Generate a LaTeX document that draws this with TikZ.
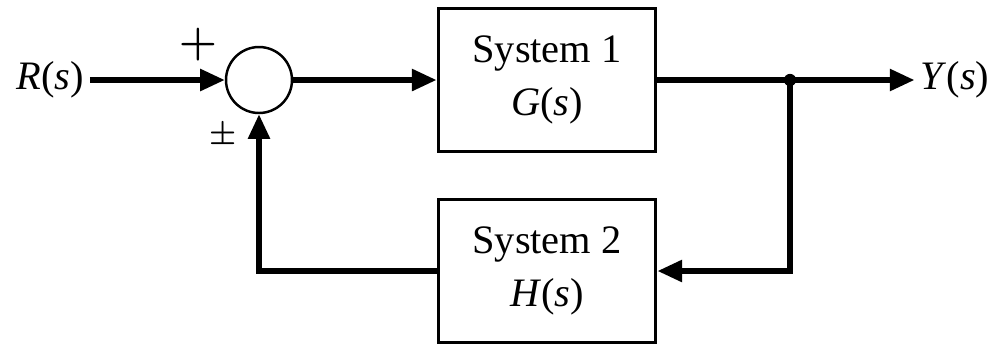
\documentclass[tikz,border=0pt]{standalone}
\usepackage{fontspec}
\setmainfont{Liberation Serif}
\usetikzlibrary{arrows.meta}

\begin{document}
\begin{tikzpicture}[x=0.02cm,y=-0.02cm,
    font=\fontsize{23}{30.5}\selectfont,
    blk/.style={draw,line width=1.7pt,minimum width=4.36cm,minimum height=2.86cm,
                inner sep=0pt,align=center},
    sig/.style={line width=3pt,-{Triangle[length=14pt,width=12pt]}}]
  \useasboundingbox (0,0) rectangle (991,343);

  \node (R) at (50,80) {\textit{R}(\textit{s})};
  \node[circle,draw,line width=1.4pt,minimum size=1.32cm,inner sep=0pt] (sum) at (259,80) {};
  \node[blk] (sys1) at (547,80) {System 1\\\textit{G}(\textit{s})};
  \node[blk] (sys2) at (547,271) {System 2\\\textit{H}(\textit{s})};
  \node (Y) at (955,80) {\textit{Y}(\textit{s})};
  \coordinate (split) at (790,80);
  \node[font=\fontsize{23}{28}\selectfont\boldmath] (plus) at (198,45) {$+$};
  \node[font=\fontsize{19}{23}\selectfont\boldmath] (pm) at (223,136) {$\pm$};

  % forward path
  \draw[sig] (R) -- (sum);
  \draw[sig] (sum) -- (sys1);
  \draw[sig] (sys1) -- (Y);
  \fill (split) circle (3.5pt);

  % feedback path
  \draw[sig] (split) |- (sys2);
  \draw[sig] (sys2) -| (sum);
\end{tikzpicture}
\end{document}
